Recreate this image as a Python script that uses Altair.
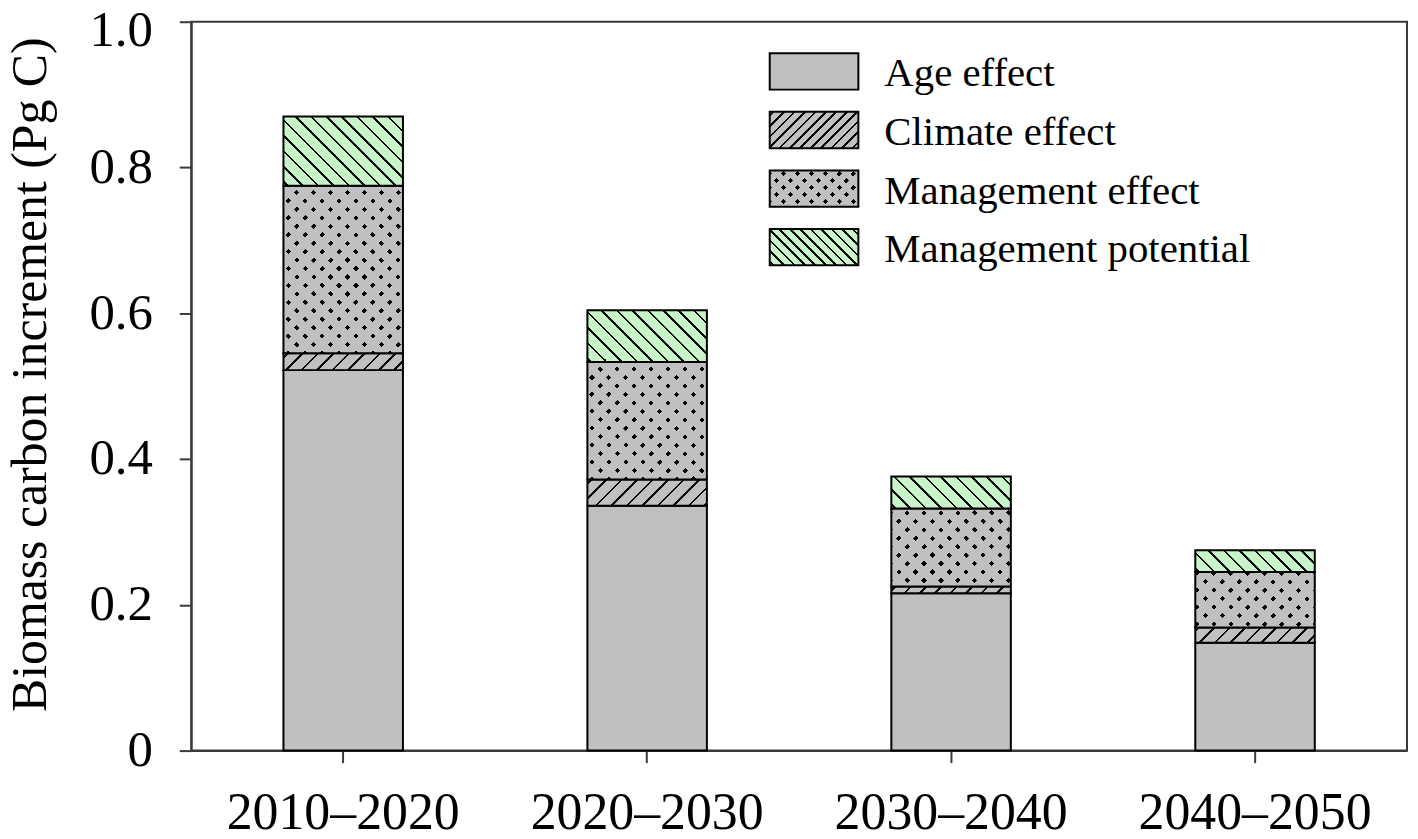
import altair as alt
import pandas as pd

# ---------------- data ----------------
periods = ["2010–2020", "2020–2030", "2030–2040", "2040–2050"]
series = ["Age effect", "Climate effect", "Management effect", "Management potential"]
age_effect = [0.522, 0.336, 0.216, 0.148]
climate_effect = [0.023, 0.036, 0.009, 0.021]
management_effect = [0.230, 0.161, 0.107, 0.076]
management_potential = [0.095, 0.071, 0.044, 0.030]
y_ticks = [0, 0.2, 0.4, 0.6, 0.8, 1.0]

values_by_series = [age_effect, climate_effect, management_effect, management_potential]

rows = []
for i, p in enumerate(periods):
    for order, (s, vals) in enumerate(zip(series, values_by_series)):
        rows.append({"period": p, "series": s, "value": vals[i], "order": order})
df = pd.DataFrame(rows)

# ---------------- style ----------------
FONT = "Liberation Serif"
AX = "#3a3a3a"
GRAY = "#c0c0c0"
GREEN = "#c8f5c8"
CLEAR = "rgba(192,192,192,0)"
PW, PH = 1221, 732
Y_MAX = 1.0
PXU = PH / Y_MAX
BAR_W = 120


def hatch(w, h, spacing, lw, bg, fg, kind, phase=0.0):
    """Linear gradient drawing 45-degree stripes inside a w x h (px) box."""
    L = w + h
    k = L / (w * w + h * h)
    if kind == "back":  # "\" lines
        x1, y1, x2, y2 = 0, 1, k * w, 1 - k * h
    else:  # "/" lines
        x1, y1, x2, y2 = 0, 0, k * w, k * h
    half = lw / 2.0
    stops = [{"offset": 0, "color": bg}]
    c = phase
    while c - half < L:
        a = max(0.0, (c - half) / L)
        b = min(1.0, (c + half) / L)
        if b > 0:
            a, b = round(a, 5), round(b, 5)
            stops += [
                {"offset": a, "color": bg},
                {"offset": a, "color": fg},
                {"offset": b, "color": fg},
                {"offset": b, "color": bg},
            ]
        c += spacing
    stops.append({"offset": 1, "color": bg})
    return {"gradient": "linear", "x1": round(x1, 5), "y1": round(y1, 5),
            "x2": round(x2, 5), "y2": round(y2, 5), "stops": stops}


def fills(name, w, h, big=True):
    """List of (fill, stroked) layers giving the pattern of a series."""
    sp = 15.5 if big else 10.5
    dsp = 17 if big else 14
    if name == "Age effect":
        return [(GRAY, True)]
    if name == "Climate effect":
        return [(hatch(w, h, sp, 2.6, GRAY, "black", "fwd", 4), True)]
    if name == "Management effect":
        return [
            (hatch(w, h, dsp, 5.2, GRAY, "black", "fwd", 3), False),
            (hatch(w, h, dsp, 5.2, GRAY, CLEAR, "back", 5), True),
        ]
    return [(hatch(w, h, sp, 2.6, GREEN, "black", "back", 4), True)]


xscale = alt.Scale(domain=periods, paddingInner=0, paddingOuter=0)
yscale = alt.Scale(domain=[0, Y_MAX], nice=False, zero=True)

x_axis = alt.Axis(
    title=None, labelAngle=0, labelFont=FONT, labelFontSize=52, labelColor="black",
    labelPadding=25, labelLimit=500, tickSize=12, tickWidth=2, tickColor=AX,
    domainColor=AX, domainWidth=2, grid=False,
)
y_axis = alt.Axis(
    values=y_ticks,
    labelExpr="datum.value == 0 ? '0' : format(datum.value, '.1f')",
    labelFont=FONT, labelFontSize=51, labelColor="black", labelPadding=27,
    labelOffset={"condition": {"test": "datum.value == 1", "value": 9}, "value": 0},
    tickSize=12, tickWidth=2, tickColor=AX, domainColor=AX, domainWidth=2, grid=False,
    title="Biomass carbon increment (Pg C)", titleFont=FONT, titleFontSize=50,
    titleFontWeight="normal", titleColor="black", titleAngle=270, titleAlign="center",
    titleBaseline="alphabetic", titleX=-146, titleY=354, titleLimit=900,
)

layers = []
for i, p in enumerate(periods):
    for s, vals in zip(series, values_by_series):
        h = vals[i] * PXU
        for fill, stroked in fills(s, BAR_W, h):
            mk = dict(size=BAR_W, fill=fill)
            if stroked:
                mk.update(stroke="black", strokeWidth=2)
            ch = (
                alt.Chart()
                .mark_bar(**mk)
                .transform_stack(stack="value", groupby=["period"], as_=["lo", "hi"],
                                 sort=[alt.SortField("order", order="ascending")])
                .transform_filter((alt.datum.period == p) & (alt.datum.series == s))
                .encode(
                    x=alt.X("period:N", scale=xscale, axis=x_axis),
                    y=alt.Y("lo:Q", scale=yscale, axis=y_axis),
                    y2="hi:Q",
                )
            )
            layers.append(ch)

# ---------------- legend (drawn manually, pattern swatches) ----------------
LX0, LX1 = 581, 670
LW = LX1 - LX0
LH = 36.5
L_TOP = 31.7
L_STEP = 58.8
for j, s in enumerate(series):
    top = L_TOP + j * L_STEP
    for fill, stroked in fills(s, LW, LH, big=False):
        mk = dict(fill=fill)
        if stroked:
            mk.update(stroke="black", strokeWidth=2)
        layers.append(
            alt.Chart(alt.Data(values=[{"series": s}]))
            .mark_rect(**mk)
            .encode(x=alt.value(LX0), x2=alt.value(LX1), y=alt.value(top), y2=alt.value(top + LH))
        )
    layers.append(
        alt.Chart(alt.Data(values=[{"label": s}]))
        .mark_text(align="left", baseline="alphabetic", font=FONT, fontSize=41, color="black")
        .encode(x=alt.value(696), y=alt.value(65 + j * L_STEP), text="label:N")
    )

chart = (
    alt.layer(*layers, data=df)
    .properties(
        width=PW, height=PH,
        padding={"left": 184, "top": 12, "right": 3, "bottom": 87},
        autosize=alt.AutoSizeParams(type="none"),
        background="white",
    )
    .configure_view(stroke=AX, strokeWidth=2)
)

chart.save("out.html", embed_options={"renderer": "svg", "actions": False})
